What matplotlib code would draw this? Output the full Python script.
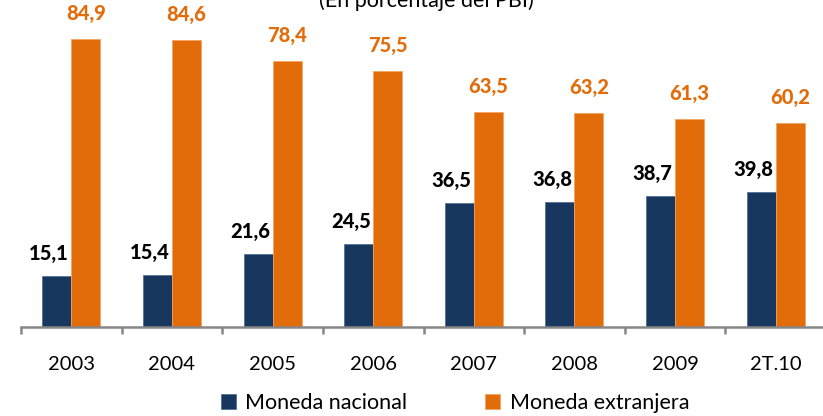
import matplotlib
matplotlib.use('Agg')
import matplotlib.pyplot as plt
import matplotlib.transforms as mtransforms
import numpy as np

plt.rcParams['font.family'] = ['Lato', 'DejaVu Sans']

categories = ['2003', '2004', '2005', '2006', '2007', '2008', '2009', '2T.10']
nacional = [15.1, 15.4, 21.6, 24.5, 36.5, 36.8, 38.7, 39.8]
extranjera = [84.9, 84.6, 78.4, 75.5, 63.5, 63.2, 61.3, 60.2]
series_names = ['Moneda nacional', 'Moneda extranjera']
title = '(En porcentaje del PBI)'

navy = '#17375E'
orange = '#E36C0A'
W, H = 823, 416

fig = plt.figure(figsize=(W / 100, H / 100), dpi=100)
ax = fig.add_axes([21 / W, (H - 327) / H, 805 / W, 305 / H])

x = np.arange(len(categories))
bw = 0.288
b1 = ax.bar(x - bw / 2, nacional, bw, color=navy, edgecolor='#4A6A90',
            linewidth=0.5, label=series_names[0])
b2 = ax.bar(x + bw / 2, extranjera, bw, color=orange, edgecolor='#F4A460',
            linewidth=0.6, label=series_names[1])

ax.set_xlim(-0.5, 7.5)
ax.set_ylim(0, 90)

# etiquetas de valores
off_l = mtransforms.offset_copy(ax.transData, fig=fig, x=-8, y=13, units='dots')
off_r = mtransforms.offset_copy(ax.transData, fig=fig, x=0, y=16, units='dots')
for xi, v in zip(x, nacional):
    ax.text(xi - bw / 2, v, f'{v:.1f}'.replace('.', ','), transform=off_l,
            ha='center', va='bottom', fontsize=14.5, fontweight='black', color='black')
for xi, v in zip(x, extranjera):
    ax.text(xi + bw / 2, v, f'{v:.1f}'.replace('.', ','), transform=off_r,
            ha='center', va='bottom', fontsize=14.5, fontweight='black', color=orange)

for s in ['top', 'right', 'left']:
    ax.spines[s].set_visible(False)
ax.spines['bottom'].set_color('#868686')
ax.spines['bottom'].set_linewidth(1.8)
ax.set_yticks([])
ax.set_xticks(x)
ax.set_xticklabels(categories, fontsize=14.5)
ax.tick_params(axis='x', which='major', length=0, pad=21)
ax.set_xticks(np.arange(-0.5, 8, 1), minor=True)
ax.tick_params(axis='x', which='minor', length=5, width=1.8, color='#868686')

fig.text(426 / W, (H - 7) / H, title, ha='center', va='baseline', fontsize=15.5)

fig.legend(handles=[b1, b2], labels=series_names, loc='lower center',
           bbox_to_anchor=(455 / W, -0.014), ncol=2, frameon=False, fontsize=15.5,
           handlelength=0.7, handleheight=0.7, handletextpad=0.45,
           columnspacing=3.6, borderaxespad=0)

fig.savefig('out.png', dpi=100)
